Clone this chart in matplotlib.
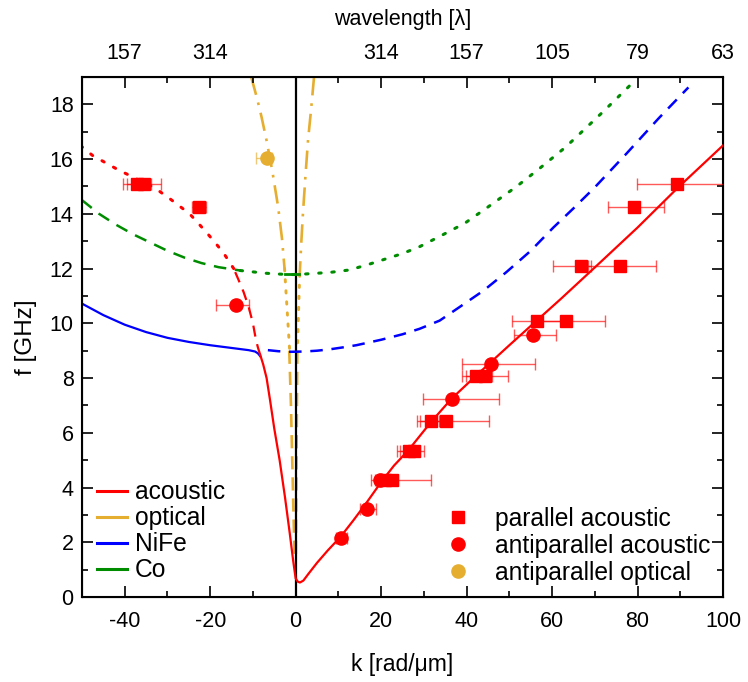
import numpy as np
import matplotlib
matplotlib.use("Agg")
import matplotlib.pyplot as plt
from matplotlib.lines import Line2D

plt.rcParams['font.family'] = ['Liberation Sans', 'DejaVu Sans']
plt.rcParams['axes.unicode_minus'] = False

RED = '#ff0000'
ORANGE = '#e6ae30'
BLUE = '#0000ff'
GREEN = '#008c00'

# acoustic branch (solid part, left steep + right)
ac_k = [-8.3, -7.6, -6.8, -6.0, -5.0, -3.75, -2.5, -1.4, -0.6, -0.2, 0.0, 0.5, 1.0, 1.8,
        3.0, 5.0, 7.5, 10.5, 13.5, 16.6, 20.0, 23.0, 26.3, 31.7, 36.5, 42.3, 45.8, 50.0,
        56.4, 62.1, 70.4, 80.0, 89.4, 100.0]
ac_f = [8.85, 8.5, 8.0, 7.2, 6.15, 5.0, 3.65, 2.35, 1.35, 0.9, 0.68, 0.56, 0.53, 0.6,
        0.85, 1.25, 1.7, 2.2, 2.8, 3.45, 4.2, 4.8, 5.35, 6.4, 7.25, 8.1, 8.6, 9.2,
        10.1, 10.9, 12.1, 13.5, 14.95, 16.5]
ac_dash_k = [-8.3, -8.8, -9.3, -10.0, -11.0, -12.2, -13.4, -14.5]
ac_dash_f = [8.85, 9.1, 9.4, 10.0, 10.6, 11.15, 11.6, 12.0]
ac_dot_k = [-14.5, -17.0, -20.9, -24.8, -29.5, -33.0, -37.3, -42.0, -47.5, -50.0]
ac_dot_f = [12.0, 12.6, 13.33, 14.0, 14.56, 14.95, 15.28, 15.65, 16.13, 16.45]

# optical branch
opl_dd_k = [-10.4, -9.0, -8.0, -6.9, -5.5, -4.1, -3.2, -2.6]
opl_dd_f = [19.0, 18.2, 17.55, 16.75, 15.6, 14.25, 13.1, 12.0]
opl_dot_k = [-2.6, -2.2, -1.8, -1.4]
opl_dot_f = [12.0, 11.0, 10.0, 9.0]
opl_dash_k = [-1.5, -1.1, -0.8, -0.5, -0.25]
opl_dash_f = [9.0, 7.0, 5.0, 3.0, 1.5]
opr_dd_k = [4.3, 3.6, 2.9, 2.3, 1.7, 1.3, 0.95]
opr_dd_f = [19.0, 17.8, 16.7, 15.4, 14.0, 12.9, 11.8]
opr_dot_k = [0.95, 0.75, 0.55, 0.4]
opr_dot_f = [11.8, 10.8, 9.8, 9.0]
opr_dash_k = [0.4, 0.3, 0.2, 0.12, 0.05]
opr_dash_f = [9.0, 7.0, 5.0, 3.0, 1.5]

# NiFe
nife_k = [-50, -45, -40, -35, -30, -25, -20, -15, -11, -9.5, -8.8, -8.3]
nife_f = [10.72, 10.3, 9.95, 9.68, 9.47, 9.32, 9.2, 9.1, 9.02, 8.97, 8.9, 8.8]
nife_dash_k = [-6.5, -4, -1, 2, 5, 8, 11, 14.2, 20, 25, 29, 33.7, 38.4, 44, 49.3, 55,
               60.3, 65, 70, 77.4, 85, 91.9]
nife_dash_f = [9.02, 8.98, 8.96, 8.97, 9.0, 9.05, 9.12, 9.2, 9.4, 9.6, 9.8, 10.1, 10.6,
               11.2, 11.87, 12.65, 13.5, 14.2, 14.97, 16.2, 17.5, 18.62]

# Co
co_dash_k = [-50, -46, -42, -38, -34, -30, -26, -22, -18, -15, -13]
co_dash_f = [14.5, 14.0, 13.6, 13.25, 12.95, 12.65, 12.4, 12.2, 12.05, 11.98, 11.93]
co_dot_k = [-13, -10, -7, -4, -1, 2, 5, 8, 12.6, 17, 21, 25, 29, 34, 39.6, 45, 51.7,
            57, 63.1, 68, 72, 78.6]
co_dot_f = [11.93, 11.88, 11.83, 11.8, 11.78, 11.8, 11.83, 11.86, 11.95, 12.15, 12.35,
            12.55, 12.8, 13.2, 13.66, 14.25, 15.0, 15.65, 16.43, 17.15, 17.74, 18.75]
co_solid_k = [-2.5, 0.8]
co_solid_f = [11.79, 11.79]

# measured points: k, f, lower k, upper k
par_k = [-37.2, -35.5, -22.6, 21.0, 22.5, 26.5, 27.6, 31.7, 35.1, 42.3, 44.3,
         56.4, 63.3, 66.7, 76.0, 79.2, 89.2]
par_f = [15.1, 15.1, 14.25, 4.27, 4.27, 5.33, 5.33, 6.43, 6.43, 8.08, 8.08,
         10.1, 10.1, 12.1, 12.1, 14.25, 15.1]
par_lo = [-40.5, -39.5, -24.3, 17.7, 19.0, 23.7, 24.3, 29.2, 28.3, 39.0, 39.9,
          50.6, 55.5, 60.2, 68.5, 73.2, 79.9]
par_hi = [-33.9, -31.5, -21.0, 24.0, 31.7, 29.0, 30.1, 33.5, 45.2, 46.0, 49.8,
          62.5, 72.3, 69.0, 84.4, 86.3, 103.0]

anti_k = [-13.9, 10.5, 16.7, 19.8, 36.5, 45.8, 55.6]
anti_f = [10.66, 2.15, 3.2, 4.27, 7.25, 8.53, 9.59]
anti_lo = [-18.7, 9.5, 15.0, 18.5, 29.7, 38.9, 51.1]
anti_hi = [-11.0, 12.0, 18.7, 21.5, 47.5, 56.1, 60.9]

opt_k = [-6.6]
opt_f = [16.05]
opt_lo = [-9.2]
opt_hi = [-5.5]

top_ticks = [-40, -20, 20, 40, 60, 80, 100]
top_labels = [str(int(round(2000 * np.pi / abs(t)))) for t in top_ticks]

fig = plt.figure(figsize=(7.48, 6.82), dpi=100)
ax = fig.add_axes([0.1096, 0.1246, 0.857, 0.7625])

ax.axvline(0, color='black', lw=1.6, zorder=4)

ax.plot(ac_k, ac_f, color=RED, lw=1.6, zorder=5)
ax.plot(ac_dash_k, ac_dash_f, color=RED, lw=1.6, ls=(0, (5, 3.5)), zorder=5)
ax.plot(ac_dot_k, ac_dot_f, color=RED, lw=2.2, ls=(0, (0.8, 3.5)), dash_capstyle='round', zorder=5)

for kk, ff in [(opl_dd_k, opl_dd_f), (opr_dd_k, opr_dd_f)]:
    ax.plot(kk, ff, color=ORANGE, lw=1.9, ls=(0, (7, 3, 1, 3)), zorder=3)
for kk, ff in [(opl_dot_k, opl_dot_f), (opr_dot_k, opr_dot_f)]:
    ax.plot(kk, ff, color=ORANGE, lw=2.1, ls=(0, (0.8, 3)), dash_capstyle='round', zorder=3)
for kk, ff in [(opl_dash_k, opl_dash_f), (opr_dash_k, opr_dash_f)]:
    ax.plot(kk, ff, color=ORANGE, lw=1.9, ls=(0, (5, 3)), zorder=3)

ax.plot(nife_k, nife_f, color=BLUE, lw=1.6, zorder=4)
ax.plot(nife_dash_k, nife_dash_f, color=BLUE, lw=1.8, ls=(0, (5, 3.5)), zorder=4)

ax.plot(co_dash_k, co_dash_f, color=GREEN, lw=1.8, ls=(0, (5, 3.5)), zorder=4)
ax.plot(co_dot_k, co_dot_f, color=GREEN, lw=2.2, ls=(0, (0.8, 3.5)), dash_capstyle='round', zorder=4)
ax.plot(co_solid_k, co_solid_f, color=GREEN, lw=2.0, zorder=4)


def points(k, f, lo, hi, marker, color):
    k = np.array(k)
    xerr = [k - np.array(lo), np.array(hi) - k]
    ax.errorbar(k, f, xerr=xerr, fmt='none', ecolor=color, elinewidth=1.0,
                capsize=4.5, capthick=1.0, alpha=0.65, zorder=6)
    ax.plot(k, f, ls='none', marker=marker, color=color, ms=9 if marker == 's' else 9.5,
            mec=color, zorder=7)


points(par_k, par_f, par_lo, par_hi, 's', RED)
points(anti_k, anti_f, anti_lo, anti_hi, 'o', RED)
points(opt_k, opt_f, opt_lo, opt_hi, 'o', ORANGE)

ax.set_xlim(-50, 100)
ax.set_ylim(0, 19)
ax.set_xticks(np.arange(-40, 101, 20))
ax.set_xticks(np.arange(-50, 101, 10), minor=True)
ax.set_yticks(np.arange(0, 19, 2))
ax.set_yticks(np.arange(0, 20, 1), minor=True)
ax.tick_params(which='both', direction='in', right=True, width=1.2, labelsize=15.5)
ax.tick_params(axis='x', pad=10)
ax.tick_params(axis='y', pad=6)
ax.tick_params(which='major', length=8)
ax.tick_params(which='minor', length=4)
for s in ax.spines.values():
    s.set_linewidth(1.5)
ax.set_xlabel('k [rad/μm]', fontsize=16.5, labelpad=15)
ax.set_ylabel('f [GHz]', fontsize=17.5, labelpad=9)

top = ax.twiny()
top.set_xlim(ax.get_xlim())
top.set_xticks(top_ticks)
top.set_xticklabels(top_labels)
top.set_xticks(np.arange(-50, 101, 10), minor=True)
top.tick_params(which='both', direction='in', width=1.2, labelsize=15.5, pad=9)
top.tick_params(which='major', length=8)
top.tick_params(which='minor', length=4)
top.set_xlabel('wavelength [λ]', fontsize=15.5, labelpad=13)

line_handles = [Line2D([], [], color=c, lw=2.2) for c in [RED, ORANGE, BLUE, GREEN]]
leg1 = ax.legend(line_handles, ['acoustic', 'optical', 'NiFe', 'Co'], loc='lower left',
                 bbox_to_anchor=(0.0, 0.0), frameon=False, fontsize=17.7,
                 handlelength=1.25, handletextpad=0.3, labelspacing=0.08, borderaxespad=0.2)
ax.add_artist(leg1)
mk_handles = [Line2D([], [], ls='none', marker='s', color=RED, ms=9),
              Line2D([], [], ls='none', marker='o', color=RED, ms=9.5),
              Line2D([], [], ls='none', marker='o', color=ORANGE, ms=9.5)]
ax.legend(mk_handles, ['parallel acoustic', 'antiparallel acoustic', 'antiparallel optical'],
          loc='lower right', bbox_to_anchor=(1.0, 0.0), frameon=False, fontsize=17.7,
          handlelength=1.0, handletextpad=1.0, labelspacing=0.12, borderaxespad=0.1)

fig.savefig('out.png', dpi=100)
